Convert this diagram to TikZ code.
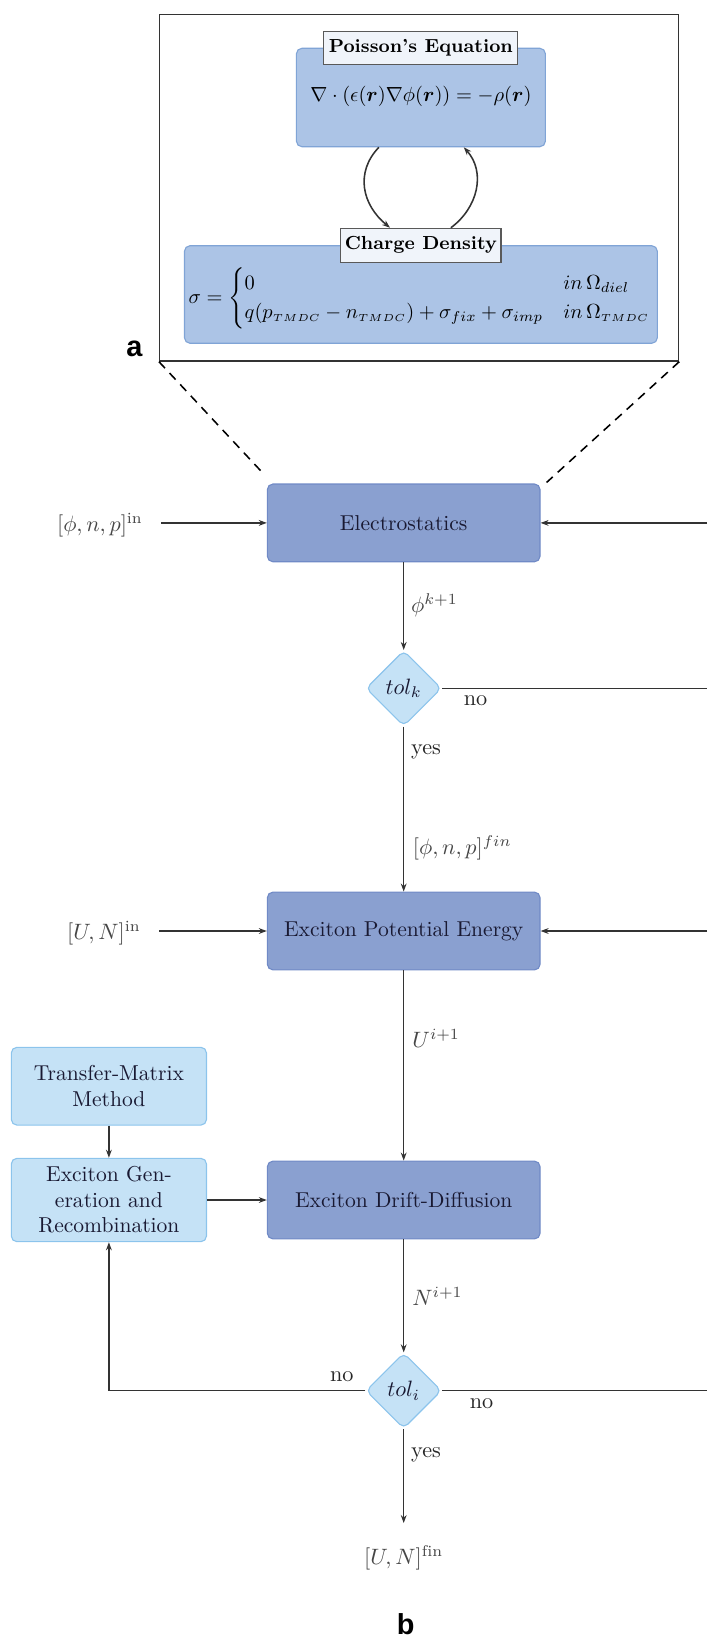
\documentclass[tikz,border=0pt]{standalone}
\usepackage{amsmath}
\usepackage{fontspec}
\newfontfamily\labelsans{Liberation Sans}
\usetikzlibrary{shapes.geometric,arrows.meta,calc}
\definecolor{mainfill}{RGB}{138,160,208}
\definecolor{mainedge}{RGB}{112,138,198}
\definecolor{lightfill}{RGB}{197,226,246}
\definecolor{lightedge}{RGB}{140,196,236}
\definecolor{eqfill}{RGB}{172,196,230}
\definecolor{eqedge}{RGB}{128,164,214}
\definecolor{titlefill}{RGB}{240,244,250}
\definecolor{txtdark}{RGB}{25,25,50}
\definecolor{lblgray}{RGB}{70,70,70}
\begin{document}
\begin{tikzpicture}[x=0.45pt,y=-0.45pt,
  mainbox/.style={draw=mainedge, fill=mainfill, rounded corners=2.5pt, minimum width=122.7pt, minimum height=35pt, inner sep=0pt, text=txtdark, font=\fontsize{9.7}{11.5}\selectfont, line width=0.5pt},
  lightbox/.style={draw=lightedge, fill=lightfill, rounded corners=2.5pt, inner sep=0pt, align=center, text=txtdark, font=\fontsize{9.7}{11.5}\selectfont, line width=0.5pt},
  eqbox/.style={draw=eqedge, fill=eqfill, rounded corners=2.5pt, inner sep=0pt, line width=0.5pt},
  titlebox/.style={draw=black!65, fill=titlefill, inner sep=0pt, line width=0.5pt, font=\bfseries\fontsize{8.5}{10}\selectfont},
  framebox/.style={draw=black!80, fill=white, inner sep=0pt, line width=0.6pt},
  decision/.style={diamond, aspect=1, draw=lightedge, fill=lightfill, rounded corners=2.5pt, minimum width=34pt, minimum height=34pt, inner sep=0pt, line width=0.5pt, text=txtdark},
  lbl/.style={text=lblgray, inner sep=0pt},
  txt/.style={text=black!85, inner sep=0pt},
  conn/.style={draw=black!80, line width=0.7pt},
  arr/.style={conn, -{Stealth[length=3.6pt,width=2.6pt]}},
  dashline/.style={draw=black, line width=0.7pt, dash pattern=on 4pt off 3pt},
  panel/.style={font=\labelsans\bfseries\fontsize{13}{13}\selectfont, inner sep=0pt},
  eqtext/.style={scale=0.92, transform shape, inner sep=0pt}
]
\useasboundingbox (0,0) rectangle (707,1644);

% ---------- panel a ----------
\node[framebox, minimum width=233.55pt, minimum height=155.8pt] (frame) at (419.1,187.9) {};
\node[eqbox, minimum width=112.05pt, minimum height=44.3pt] (pois) at (420.9,97.5) {};
\node[eqbox, minimum width=212.8pt, minimum height=43.9pt] (charge) at (420.9,294.5) {};
\node[titlebox, minimum width=87.3pt, minimum height=14.7pt] (poist) at (420.9,48) {Poisson's Equation};
\node[titlebox, minimum width=72.1pt, minimum height=15.3pt] (charget) at (420.9,245.3) {Charge Density};
\node[eqtext] (poiseq) at (421,96) {$\nabla\cdot(\epsilon(\boldsymbol{r})\nabla\phi(\boldsymbol{r}))=-\rho(\boldsymbol{r})$};
\node[eqtext] (chargeeq) at (420,298) {$\sigma=\begin{cases}0 & in\,\Omega_{diel}\\ q(p_{\scriptscriptstyle TMDC}-n_{\scriptscriptstyle TMDC})+\sigma_{fix}+\sigma_{imp} & in\,\Omega_{\scriptscriptstyle TMDC}\end{cases}$};
\draw[arr] ([xshift=-18.9pt]pois.south) .. controls +(-24,25) and +(-28,-23) .. ([xshift=-13.9pt]charget.north);
\draw[arr] ([xshift=13.5pt]charget.north) .. controls +(27,-20) and +(22.3,25) .. ([xshift=19.3pt]pois.south);
\node[panel] (pa) at (134.5,349) {a};

% ---------- panel b ----------
\node[mainbox] (elec) at (403.7,522.9) {Electrostatics};
\node[mainbox] (epe) at (403.7,931) {Exciton Potential Energy};
\node[mainbox] (edd) at (403.7,1200) {Exciton Drift-Diffusion};
\node[lightbox, minimum width=87.8pt, minimum height=35pt] (tmm) at (108.9,1086.2) {Transfer-Matrix\\Method};
\node[lightbox, minimum width=87.8pt, minimum height=37.5pt] (egr) at (108.9,1200) {Exciton Gen-\\eration and\\Recombination};
\node[decision] (tolk) at (403.7,688.3) {$tol_k$};
\node[decision] (toli) at (403.7,1390.7) {$tol_i$};

\draw[dashline] (frame.south west) -- ($(elec.north west)+(-3.6,-10)$);
\draw[dashline] (frame.south east) -- ($(elec.north east)+(6,-1)$);

\node[lbl] (inA) at (100,525) {$[\phi,n,p]^{\mathrm{in}}$};
\node[lbl] (inB) at (104,933) {$[U,N]^{\mathrm{in}}$};
\node[lbl] (outB) at (403.7,1558) {$[U,N]^{\mathrm{fin}}$};
\coordinate (rA) at (707,522.9);
\coordinate (rB) at (707,931);
\coordinate (rK) at (707,688.3);
\coordinate (rI) at (707,1390.7);

\draw[arr, shorten <=8pt] (inA.east |- elec.west) -- (elec.west);
\draw[arr, shorten <=8pt] (inB.east |- epe.west) -- (epe.west);
\draw[arr] (rA) -- (elec.east);
\draw[arr] (rB) -- (epe.east);

\draw[arr] (elec.south) -- (tolk.north);
\node[lbl, anchor=west] (phik) at (410.7,605) {$\phi^{k+1}$};
\draw[conn] (tolk.east) -- (rK);
\node[txt] (noK) at (475.6,700.7) {no};
\draw[arr] (tolk.south) -- (epe.north);
\node[txt] (yesK) at (426,751.7) {yes};
\node[lbl, anchor=west] (phifin) at (412.5,848) {$[\phi,n,p]^{fin}$};

\draw[arr] (epe.south) -- (edd.north);
\node[lbl, anchor=west] (ui) at (412,1038) {$U^{i+1}$};
\draw[arr] (tmm.south) -- (egr.north);
\draw[arr] (egr.east) -- (edd.west);
\draw[arr] (edd.south) -- (toli.north);
\node[lbl, anchor=west] (ni) at (412,1296.7) {$N^{i+1}$};
\draw[arr] (toli.west) -- (egr.south |- toli.west) -- (egr.south);
\node[txt] (noIl) at (341.8,1376.7) {no};
\draw[conn] (toli.east) -- (rI);
\node[txt] (noIr) at (481.5,1404) {no};
\draw[arr, shorten >=10pt] (toli.south) -- (toli.south |- outB.north);
\node[txt] (yesI) at (426,1455) {yes};
\node[panel] (pb) at (405.8,1624) {b};
\end{tikzpicture}
\end{document}
